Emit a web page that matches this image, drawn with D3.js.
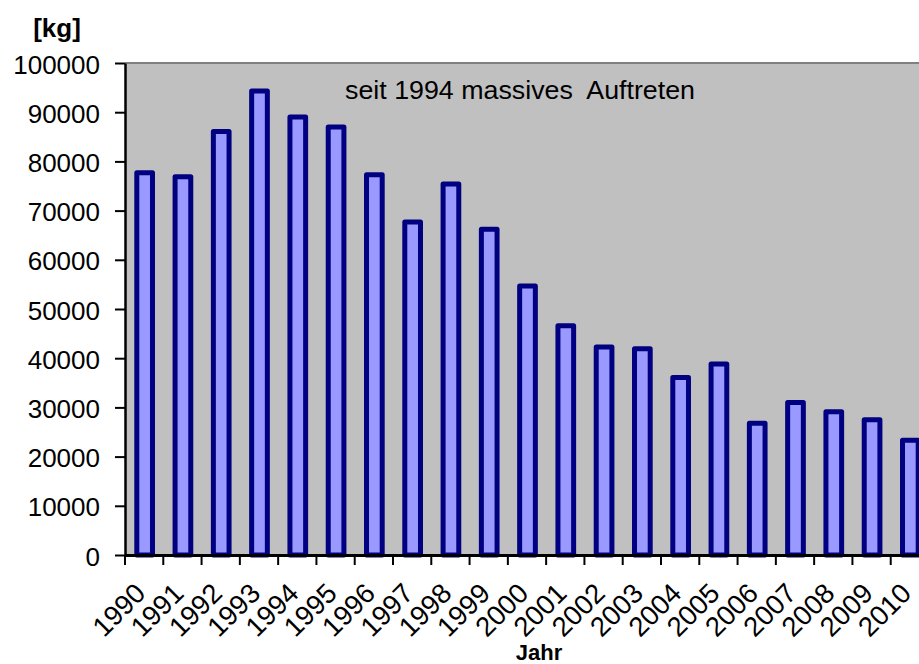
<!DOCTYPE html>
<html>
<head>
<meta charset="utf-8">
<script src="https://cdn.jsdelivr.net/npm/d3@7/dist/d3.min.js"></script>
<style>
  html, body { margin: 0; padding: 0; background: #ffffff; }
  svg { display: block; }
  text { font-family: "Liberation Sans", Arial, sans-serif; fill: #000; }
</style>
</head>
<body>
<svg id="chart" width="919" height="664"></svg>
<script>
const years = ["1990","1991","1992","1993","1994","1995","1996","1997","1998","1999","2000",
               "2001","2002","2003","2004","2005","2006","2007","2008","2009","2010"];
const values = [77700, 76900, 86100, 94300, 89000, 87000, 77300, 67700, 75400, 66200, 54700,
                46600, 42300, 41900, 36100, 38800, 26800, 31000, 29100, 27500, 23300];
const yTicks = [0, 10000, 20000, 30000, 40000, 50000, 60000, 70000, 80000, 90000, 100000];
const yUnit = "[kg]";
const xTitle = "Jahr";
const note = "seit 1994 massives  Auftreten";

const svg = d3.select("#chart");
const pLeft = 125, pRight = 929, pTop = 63, pBottom = 555;

const x = d3.scaleBand().domain(years).range([pLeft, pRight]).padding(0);
const y = d3.scaleLinear().domain([0, 100000]).range([pBottom, pTop]);

// plot background
svg.append("rect").attr("x", pLeft).attr("y", pTop)
  .attr("width", pRight - pLeft).attr("height", pBottom - pTop)
  .attr("fill", "#C0C0C0");
// top border
svg.append("line").attr("x1", pLeft).attr("x2", pRight).attr("y1", pTop).attr("y2", pTop)
  .attr("stroke", "#808080").attr("stroke-width", 2);

// bars
const bw = x.bandwidth() * 0.41;
svg.append("g").selectAll("rect").data(years).join("rect")
  .attr("x", (d) => x(d) + x.bandwidth() / 2 - bw / 2 + 0.5)
  .attr("y", (d, i) => y(values[i]))
  .attr("width", bw)
  .attr("height", (d, i) => pBottom - y(values[i]))
  .attr("fill", "#9999FF")
  .attr("stroke", "#000080")
  .attr("stroke-width", 5)
  .attr("stroke-linejoin", "round");

// y axis
const yAxis = d3.axisLeft(y).tickValues(yTicks).tickSize(10).tickSizeOuter(0).tickPadding(0)
  .tickFormat(d3.format("d"));
const gy = svg.append("g").attr("transform", `translate(${pLeft},0)`).call(yAxis);
gy.select(".domain").attr("stroke", "#000").attr("stroke-width", 2.5);
gy.selectAll(".tick line").attr("stroke", "#000").attr("stroke-width", 2);
gy.selectAll(".tick text").attr("x", -25).attr("dy", null).attr("y", 10)
  .attr("font-size", "26px").attr("font-family", "Liberation Sans, Arial, sans-serif")
  .attr("text-anchor", "end");

// x axis
const xAxis = d3.axisBottom(x).tickSize(0).tickSizeOuter(0);
const gx = svg.append("g").attr("transform", `translate(0,${pBottom})`).call(xAxis);
gx.select(".domain").attr("stroke", "#000").attr("stroke-width", 3);
gx.selectAll(".tick text")
  .attr("font-size", "27.5px").attr("font-family", "Liberation Sans, Arial, sans-serif")
  .attr("text-anchor", "end").attr("dy", null).attr("y", 0)
  .attr("transform", "translate(3,40) rotate(-45)");
// boundary ticks between categories
const bounds = years.map((d) => x(d)).concat([pRight]);
svg.append("g").selectAll("line").data(bounds).join("line")
  .attr("x1", (d) => d).attr("x2", (d) => d)
  .attr("y1", pBottom).attr("y2", pBottom + 10)
  .attr("stroke", "#000").attr("stroke-width", 2);

// texts
svg.append("text").attr("x", 57).attr("y", 37).attr("text-anchor", "middle")
  .attr("font-size", "26px").attr("font-weight", "bold").text(yUnit);
svg.append("text").attr("x", 539).attr("y", 660).attr("text-anchor", "middle")
  .attr("font-size", "22px").attr("font-weight", "bold").text(xTitle);
svg.append("text").attr("x", 345).attr("y", 99)
  .attr("font-size", "25.5px").attr("textLength", 350).attr("lengthAdjust", "spacingAndGlyphs")
  .style("white-space", "pre").text(note);
</script>
</body>
</html>
